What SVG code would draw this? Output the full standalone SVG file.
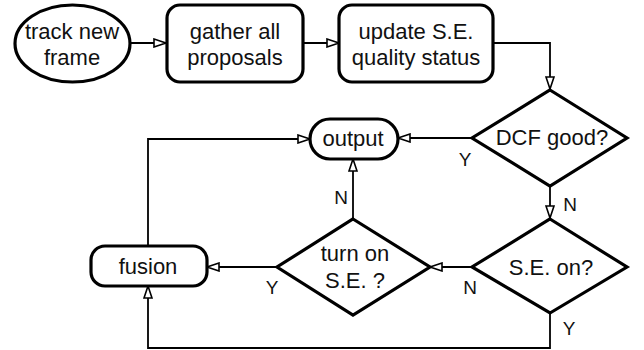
<svg xmlns="http://www.w3.org/2000/svg" width="644" height="350" viewBox="0 0 644 350">
<style>
.n{fill:#fff;stroke:#000;stroke-width:3.2}
.t{font-family:"Liberation Sans",Arial,sans-serif;font-size:22px;fill:#111;text-anchor:middle}
.l{font-family:"Liberation Sans",Arial,sans-serif;font-size:19px;fill:#111;text-anchor:middle}
.c{fill:none;stroke:#000;stroke-width:1.8;marker-end:url(#a)}
</style>
<defs>
<marker id="a" markerUnits="userSpaceOnUse" markerWidth="14" markerHeight="10" refX="13" refY="5" orient="auto">
<path d="M1,1 L13,5 L1,9 Z" fill="#fff" stroke="#000" stroke-width="1.6"/>
</marker>
</defs>
<g id="connectors">
<path class="c" d="M130,43 H166"/>
<path class="c" d="M303,43 H339"/>
<path class="c" d="M493,43 H550 V89"/>
<path class="c" d="M472,138 H398"/>
<path class="c" d="M550,186 V218"/>
<path class="c" d="M472,267 H430"/>
<path class="c" d="M353,218 V159"/>
<path class="c" d="M277,267 H207"/>
<path class="c" d="M148,246 V139 H310"/>
<path class="c" d="M550,313 V348 H148 V286"/>
</g>
<g id="track"><ellipse class="n" cx="72.5" cy="43.5" rx="57.5" ry="38.5"/><text class="t" x="72" y="39">track new</text><text class="t" x="72" y="65">frame</text></g>
<g id="gather"><rect class="n" x="167" y="5" width="136" height="77" rx="13"/><text class="t" x="235" y="39">gather all</text><text class="t" x="235" y="65">proposals</text></g>
<g id="update"><rect class="n" x="339" y="5" width="154" height="77" rx="13"/><text class="t" x="416" y="39">update S.E.</text><text class="t" x="416" y="65">quality status</text></g>
<g id="dcf"><path class="n" d="M550,90 L627,138 L550,186 L472,138 Z"/><text class="t" x="552" y="145">DCF good?</text></g>
<g id="output"><rect class="n" x="310" y="119" width="88" height="40" rx="20"/><text class="t" x="353" y="146">output</text></g>
<g id="seon"><path class="n" d="M550,219 L627,267 L550,313 L472,267 Z"/><text class="t" x="551" y="275">S.E. on?</text></g>
<g id="turnon"><path class="n" d="M353,219 L430,267 L353,315 L277,267 Z"/><text class="t" x="355" y="261">turn on</text><text class="t" x="355" y="288">S.E. ?</text></g>
<g id="fusion"><rect class="n" x="91" y="246" width="116" height="40" rx="14"/><text class="t" x="148" y="274">fusion</text></g>
<g id="labels">
<text class="l" x="465" y="166">Y</text>
<text class="l" x="570" y="211">N</text>
<text class="l" x="341" y="204">N</text>
<text class="l" x="470" y="294">N</text>
<text class="l" x="272" y="294">Y</text>
<text class="l" x="569" y="335">Y</text>
</g>
</svg>
